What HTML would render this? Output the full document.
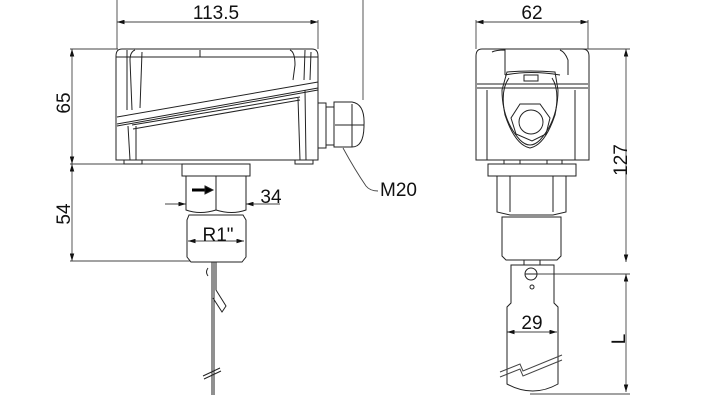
<!DOCTYPE html>
<html><head><style>html,body{margin:0;padding:0;background:#fff}svg{display:block}</style></head><body>
<svg width="728" height="400" viewBox="0 0 728 400" xmlns="http://www.w3.org/2000/svg" font-family="Liberation Sans, sans-serif" fill="none" stroke="#222" stroke-width="1">
<defs>
<marker id="a" viewBox="0 0 10 6" refX="10" refY="3" markerWidth="9" markerHeight="5" orient="auto-start-reverse"><path d="M0,0L10,3L0,6z" fill="#111" stroke="none"/></marker>
</defs>
<g stroke="#444" stroke-width="0.9">
<line x1="117" y1="0" x2="117" y2="49"/><line x1="363" y1="0" x2="363" y2="100"/>
<line x1="117" y1="22" x2="318" y2="22" marker-start="url(#a)" marker-end="url(#a)"/>
<line x1="318" y1="20" x2="318" y2="49"/>
<line x1="70" y1="49" x2="118" y2="49"/><line x1="70" y1="164" x2="185" y2="164"/><line x1="70" y1="261" x2="190" y2="261"/>
<line x1="72" y1="49" x2="72" y2="164" marker-start="url(#a)" marker-end="url(#a)"/>
<line x1="72" y1="164" x2="72" y2="261" marker-start="url(#a)" marker-end="url(#a)"/>
<line x1="165" y1="204" x2="186" y2="204" marker-end="url(#a)"/>
<line x1="280" y1="204" x2="246" y2="204" marker-end="url(#a)"/>
<line x1="188" y1="241" x2="244" y2="241" marker-start="url(#a)" marker-end="url(#a)"/>
<path d="M343,148 Q355,170 366,186 Q370,191 378,191"/>
<line x1="476" y1="22" x2="588" y2="22" marker-start="url(#a)" marker-end="url(#a)"/>
<line x1="476" y1="20" x2="476" y2="49"/><line x1="588" y1="20" x2="588" y2="49"/>
<line x1="580" y1="49" x2="630" y2="49"/>
<line x1="626" y1="49" x2="626" y2="262" marker-start="url(#a)" marker-end="url(#a)"/>
<line x1="530" y1="274" x2="630" y2="274"/>
<line x1="626" y1="274" x2="626" y2="392" marker-start="url(#a)" marker-end="url(#a)"/>
<line x1="530" y1="394" x2="630" y2="394"/>
<line x1="507" y1="332" x2="557" y2="332" marker-start="url(#a)" marker-end="url(#a)"/>
</g>
<g fill="#111" stroke="none" font-size="19">
<text x="216" y="19" text-anchor="middle">113.5</text>
<text x="532" y="19" text-anchor="middle">62</text>
<text x="271" y="203" text-anchor="middle">34</text>
<text x="218" y="241" text-anchor="middle">R1"</text>
<text x="380" y="196">M20</text>
<text x="532" y="329" text-anchor="middle">29</text>
<text transform="translate(70,103) rotate(-90)" text-anchor="middle">65</text>
<text transform="translate(70,214) rotate(-90)" text-anchor="middle">54</text>
<text transform="translate(627,160) rotate(-90)" text-anchor="middle">127</text>
<text transform="translate(625,339) rotate(-90)" text-anchor="middle">L</text>
</g>
<g stroke="#222" stroke-width="1">
<path d="M122,49 H312 Q318,49 318,56 V160 H116 V56 Q116,49 122,49Z"/>
<line x1="116" y1="57" x2="318" y2="57"/>
<path d="M117,117 L318,82 M117,124 L318,88 M117,126 L318,90"/>
<path d="M132,125 L300,97 M133,129 L300,100"/>
<path d="M127,50 L127,110 M135,50 Q130,52 130,60 L132,110 M142,52 L140,108 M200,50 L200,57"/>
<path d="M290,50 Q295,52 295,65 L293,80 M305,50 L304,80 M311,52 L310,80"/>
<path d="M128,126 L130,160 M136,126 L136,160 M298,98 L300,160 M305,90 L306,160"/>
<path d="M124,160 V164 H142 V160 M295,160 V164 H313 V160"/>
<path d="M318,103 H326 V148 H318 M326,107 H334 V145 H326 M334,102 H352 Q365,104 364,125 Q364,147 352,147 H334Z M335,125 H364 M352,104 V147"/>
<rect x="182" y="164" width="68" height="12"/>
<path d="M186,176 V210 Q200,215 216,210 Q232,215 246,210 V176 M216,176 V210"/>
<path d="M189,215 H243 L246,220 V257 L242,262 H191 L187,257 V220Z"/>
<path d="M192,190 H206" stroke="#000" stroke-width="3"/>
<path d="M205,186 L213,190 L205,194z" fill="#000"/>
<path d="M212,262 V395 M214,262 V395"/>
<path d="M216,262 V290 L226,306 L222,312 L213,298 M208,268 Q205,272 208,276"/>
<path d="M203,376 L220,368 M204,379 L221,371"/>
</g>
<g stroke="#222" stroke-width="1">
<path d="M482,49 H582 Q589,49 589,56 V160 H476 V56 Q476,49 482,49Z"/>
<path d="M477,84 H588 M477,88 H588 M492,52 Q496,50 505,50 V75 M560,50 Q565,52 568,60 V75 M505,75 Q530,70 560,75"/>
<path d="M507,72 Q530,70 555,72 L558,90 Q558,120 540,140 Q530,150 520,140 Q502,120 502,90Z"/>
<path d="M509,78 Q500,90 505,115 Q515,145 530,148 Q545,145 555,115 Q560,90 552,78"/>
<rect x="524" y="75" width="14" height="6"/>
<path d="M520,104 L540,104 L550,118 L546,134 L532,141 L516,134 L511,118Z"/>
<circle cx="531" cy="122" r="12"/>
<path d="M487,90 V160 M575,90 V160"/>
<path d="M504,160 V164 H520 V160 M547,160 V164 H562 V160"/>
<rect x="488" y="164" width="88" height="12"/>
<path d="M497,176 V212 L510,215 H553 L566,212 V176 M510,176 V212 M553,176 V212"/>
<path d="M502,217 H561 V256 L557,260 H506 L502,256Z"/>
<path d="M524,260 V265 M540,260 V265"/>
<path d="M511,265 H554 V303 L558,307 V384 Q533,398 507,384 V307 L511,303Z"/>
<circle cx="531" cy="274" r="6"/><line x1="525" y1="274" x2="537" y2="274"/>
<circle cx="532" cy="287" r="2"/>
<path d="M500,372 L520,364 L523,371 L562,355 M500,377 L520,369 L523,376 L562,360" stroke="#444"/>
</g>
</svg>
</body></html>
